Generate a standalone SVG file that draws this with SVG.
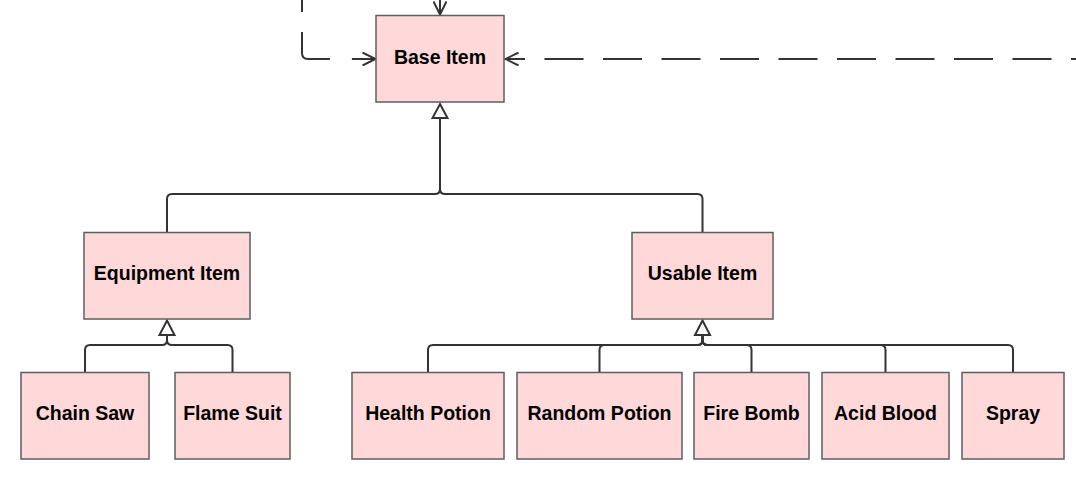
<svg xmlns="http://www.w3.org/2000/svg" width="1076" height="478" viewBox="0 0 1076 478">
<style>
.node rect{fill:#ffd9d9;stroke:#5e5e5e;stroke-width:1.5}
.node text{font-family:"Liberation Sans",Arial,sans-serif;font-weight:bold;font-size:19.5px;fill:#000;text-anchor:middle}
.conn path{fill:none;stroke:#333;stroke-width:2}
.tri{fill:#fff;stroke:#333;stroke-width:2;stroke-linejoin:miter}
</style>
<defs>
<marker id="open" viewBox="-14 -7 16 14" markerWidth="16" markerHeight="14" refX="0" refY="0" orient="auto" markerUnits="userSpaceOnUse">
<path d="M-13,-6.5 L0,0 L-13,6.5" fill="none" stroke="#333" stroke-width="2"/>
</marker>
</defs>
<rect width="1076" height="478" fill="#fff"/>
<g class="conn" id="connectors">
<path d="M440,0 V14.5" marker-end="url(#open)"/>
<path d="M302,0 V53 Q302,59 308,59 H375.5" stroke-dasharray="12 20 52.4 22 100" marker-end="url(#open)"/>
<path d="M505,59 H1076" stroke-dasharray="39 19.5" stroke-dashoffset="19"/>
<path d="M520,59 H505.5" marker-end="url(#open)"/>
<path d="M440,118 V189 Q440,194 435,194 H172 Q167,194 167,199 V232"/>
<path d="M440,118 V189 Q440,194 445,194 H697.5 Q702.5,194 702.5,199 V232"/>
<polygon class="tri" points="440,104 447.5,118 432.5,118"/>
<path d="M167,335 V340 Q167,345 162,345 H90 Q85,345 85,350 V372"/>
<path d="M167,335 V340 Q167,345 172,345 H227.5 Q232.5,345 232.5,350 V372"/>
<polygon class="tri" points="167,320.5 174.5,335 159.5,335"/>
<path d="M702.5,335 V340 Q702.5,345 697.5,345 H433 Q428,345 428,350 V372"/>
<path d="M702.5,335 V340 Q702.5,345 697.5,345 H604.5 Q599.5,345 599.5,350 V372"/>
<path d="M702.5,335 V340 Q702.5,345 707.5,345 H746.5 Q751.5,345 751.5,350 V372"/>
<path d="M702.5,335 V340 Q702.5,345 707.5,345 H880.5 Q885.5,345 885.5,350 V372"/>
<path d="M702.5,335 V340 Q702.5,345 707.5,345 H1008 Q1013,345 1013,350 V372"/>
<polygon class="tri" points="702.5,320.5 710,335 695,335"/>
</g>
<g class="node" id="base-item"><rect x="376" y="15.5" width="128" height="86.5"/><text x="440" y="63.5">Base Item</text></g>
<g class="node" id="equipment-item"><rect x="84" y="232.5" width="166" height="86.5"/><text x="167" y="280">Equipment Item</text></g>
<g class="node" id="usable-item"><rect x="632" y="232.5" width="141" height="86.5"/><text x="702.5" y="280">Usable Item</text></g>
<g class="node" id="chain-saw"><rect x="21" y="372.5" width="128" height="86.5"/><text x="85" y="420">Chain Saw</text></g>
<g class="node" id="flame-suit"><rect x="175" y="372.5" width="115" height="86.5"/><text x="232.5" y="420">Flame Suit</text></g>
<g class="node" id="health-potion"><rect x="352" y="372.5" width="152" height="86.5"/><text x="428" y="420">Health Potion</text></g>
<g class="node" id="random-potion"><rect x="517" y="372.5" width="165" height="86.5"/><text x="599.5" y="420">Random Potion</text></g>
<g class="node" id="fire-bomb"><rect x="694" y="372.5" width="115" height="86.5"/><text x="751.5" y="420">Fire Bomb</text></g>
<g class="node" id="acid-blood"><rect x="822" y="372.5" width="127" height="86.5"/><text x="885.5" y="420">Acid Blood</text></g>
<g class="node" id="spray"><rect x="962" y="372.5" width="102" height="86.5"/><text x="1013" y="420">Spray</text></g>
</svg>
